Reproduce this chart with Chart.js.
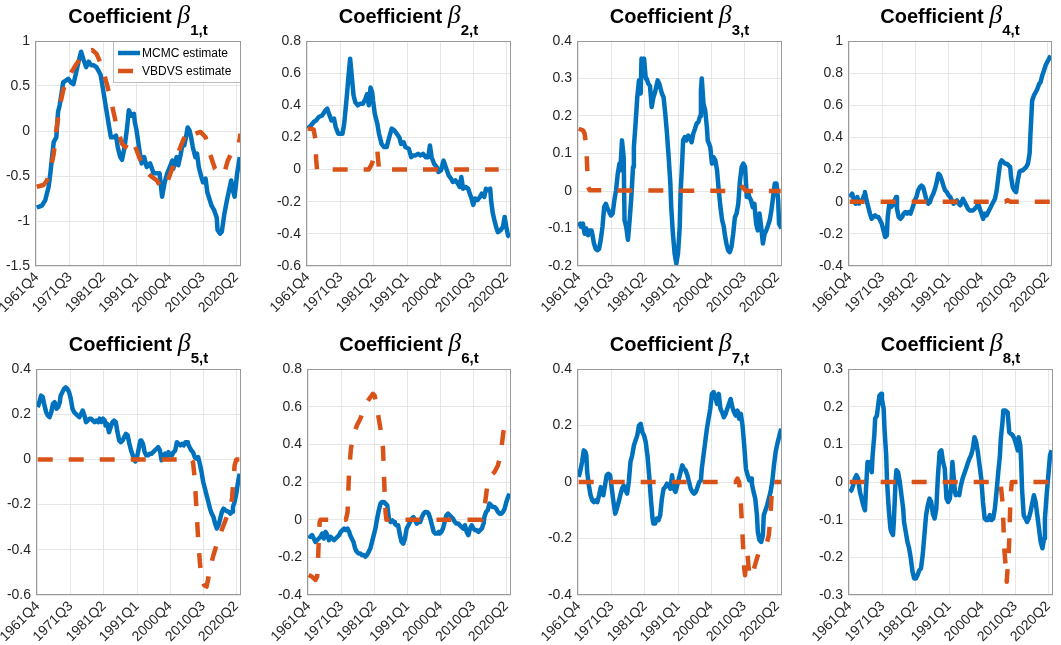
<!DOCTYPE html>
<html><head><meta charset="utf-8">
<script src="https://cdn.jsdelivr.net/npm/chart.js@4.4.1/dist/chart.umd.min.js"></script>
<style>
html,body{margin:0;padding:0;background:#fff;width:1061px;height:645px;overflow:hidden;position:relative;font-family:"Liberation Sans",Arial,sans-serif;}
canvas{position:absolute;}
.ttl{position:absolute;text-align:center;font-weight:bold;font-size:20px;color:#000;white-space:nowrap;line-height:24px;z-index:3;}
.ttl .b{font-family:"Liberation Serif","DejaVu Serif",serif;font-style:italic;font-weight:normal;font-size:26px;}
.ttl .s{font-size:15px;font-weight:bold;position:relative;top:12px;}
</style></head><body>
<script>
// ---- x axis (quarter index, 0 = 1961Q4) ----
const quarterTicks = [0, 39, 78, 117, 156, 195, 234];
const tickLabels = ['1961Q4','1971Q3','1981Q2','1991Q1','2000Q4','2010Q3','2020Q2'];
const seriesNames = ['MCMC estimate', 'VBDVS estimate'];

// ---- y axis limits per coefficient ----
const yMin  = [-1.5, -0.6, -0.2, -0.4, -0.6, -0.4, -0.4, -0.3];
const yMax  = [1, 0.8, 0.4, 1, 0.4, 0.8, 0.4, 0.3];
const yStep = [0.5, 0.2, 0.1, 0.2, 0.2, 0.2, 0.2, 0.1];

// ---- data: [quarter index, value] ----
const mcmc1 = [[0,-0.85],[3,-0.84],[6,-0.83],[10,-0.77],[14,-0.62],[16,-0.47],[18,-0.29],[20,-0.12],[23,-0.07],[25,0.21],[27,0.29],[29,0.41],[31,0.54],[34,0.56],[37,0.58],[40,0.54],[43,0.52],[46,0.64],[49,0.77],[52,0.88],[55,0.79],[58,0.71],[61,0.77],[64,0.73],[67,0.73],[70,0.71],[73,0.66],[75,0.62],[78,0.45],[81,0.27],[85,0.04],[87,-0.07],[90,-0.07],[93,-0.05],[95,-0.18],[98,-0.29],[100,-0.32],[103,-0.18],[106,0.04],[108,0.23],[111,0.17],[114,0.19],[115,0.10],[117,0.01],[121,-0.25],[123,-0.36],[126,-0.29],[129,-0.40],[133,-0.36],[137,-0.47],[141,-0.47],[144,-0.47],[147,-0.73],[150,-0.57],[153,-0.47],[156,-0.40],[159,-0.33],[160,-0.42],[164,-0.29],[166,-0.38],[169,-0.25],[171,-0.14],[173,-0.16],[175,-0.07],[177,0.04],[179,0.01],[181,-0.07],[183,-0.18],[186,-0.29],[188,-0.25],[190,-0.40],[193,-0.51],[195,-0.57],[198,-0.53],[200,-0.68],[203,-0.77],[205,-0.83],[208,-0.88],[211,-0.96],[212,-1.10],[215,-1.14],[217,-1.12],[220,-0.92],[223,-0.77],[226,-0.64],[228,-0.55],[230,-0.66],[232,-0.73],[235,-0.47],[238,-0.29]];
const vbdvs1 = [[0,-0.62],[8,-0.60],[12,-0.55],[16,-0.44],[20,-0.25],[23,0.01],[27,0.27],[31,0.45],[35,0.56],[41,0.66],[47,0.75],[53,0.83],[59,0.88],[65,0.90],[70,0.86],[76,0.73],[82,0.53],[88,0.30],[94,0.04],[100,-0.14],[104,-0.18],[108,-0.10],[112,-0.10],[117,-0.21],[123,-0.36],[129,-0.46],[135,-0.51],[141,-0.55],[145,-0.62],[149,-0.64],[153,-0.57],[158,-0.44],[164,-0.29],[170,-0.14],[176,-0.01],[182,0.01],[186,-0.03],[192,-0.01],[198,-0.07],[203,-0.25],[209,-0.42],[215,-0.49],[220,-0.46],[224,-0.33],[229,-0.23],[234,-0.20],[237,-0.14],[239,-0.03]];

const mcmc2 = [[0,0.255],[4,0.275],[7,0.296],[10,0.306],[13,0.327],[17,0.337],[21,0.369],[23,0.379],[25,0.348],[28,0.306],[31,0.317],[33,0.265],[36,0.223],[38,0.223],[41,0.223],[43,0.286],[46,0.452],[48,0.576],[50,0.69],[52,0.576],[54,0.462],[56,0.42],[59,0.40],[62,0.41],[65,0.41],[68,0.44],[70,0.47],[72,0.40],[74,0.51],[76,0.48],[77,0.43],[79,0.348],[82,0.286],[84,0.223],[87,0.16],[90,0.14],[93,0.14],[96,0.20],[99,0.255],[102,0.244],[105,0.223],[108,0.20],[110,0.16],[113,0.17],[115,0.14],[119,0.13],[122,0.077],[124,0.088],[127,0.088],[130,0.098],[133,0.088],[136,0.098],[139,0.077],[142,0.077],[144,0.15],[146,0.077],[149,0.035],[152,0.015],[154,-0.015],[157,-0.005],[160,0.056],[162,0.025],[164,-0.005],[166,-0.036],[169,-0.057],[171,-0.077],[174,-0.067],[177,-0.088],[179,-0.108],[181,-0.046],[183,-0.119],[186,-0.108],[189,-0.119],[191,-0.15],[193,-0.18],[195,-0.22],[197,-0.18],[200,-0.19],[203,-0.17],[205,-0.15],[208,-0.17],[210,-0.119],[212,-0.129],[215,-0.119],[216,-0.19],[218,-0.27],[220,-0.316],[222,-0.357],[224,-0.389],[227,-0.378],[230,-0.357],[232,-0.295],[234,-0.357],[236,-0.41],[238,-0.42]];
const vbdvs2 = [[0,0.255],[7,0.25],[9,0.19],[10,0.06],[11,0],[72,0],[76,0.04],[80,0.13],[82,0.12],[84,0],[225,0]];

const mcmc3 = [[0,-0.083],[3,-0.096],[5,-0.087],[7,-0.114],[9,-0.10],[11,-0.118],[13,-0.105],[15,-0.105],[16,-0.114],[18,-0.14],[20,-0.154],[22,-0.158],[24,-0.154],[26,-0.13],[28,-0.096],[30,-0.043],[32,-0.034],[34,-0.047],[36,-0.056],[38,-0.065],[40,-0.06],[42,-0.025],[44,0.002],[46,0.046],[48,0.073],[49,0.055],[51,0.135],[53,0.09],[54,-0.078],[56,-0.096],[58,-0.13],[60,-0.078],[62,-0.016],[64,0.064],[65,0.117],[67,0.18],[69,0.25],[71,0.295],[73,0.26],[74,0.353],[76,0.33],[77,0.353],[79,0.30],[80,0.30],[82,0.286],[84,0.28],[86,0.224],[88,0.25],[90,0.264],[93,0.295],[95,0.286],[98,0.26],[100,0.25],[102,0.206],[104,0.153],[106,0.09],[108,0.02],[109,-0.043],[111,-0.114],[113,-0.167],[115,-0.194],[117,-0.167],[119,-0.096],[120,-0.007],[122,0.082],[123,0.135],[125,0.144],[127,0.135],[129,0.148],[131,0.144],[133,0.13],[135,0.153],[137,0.166],[139,0.18],[141,0.184],[143,0.20],[144,0.268],[145,0.30],[147,0.233],[149,0.215],[151,0.17],[152,0.135],[155,0.117],[157,0.073],[159,0.09],[161,0.082],[163,0.055],[165,0.002],[167,-0.043],[169,-0.078],[171,-0.096],[172,-0.114],[174,-0.14],[176,-0.158],[178,-0.163],[180,-0.149],[182,-0.114],[184,-0.07],[186,-0.06],[188,-0.034],[190,0.028],[192,0.064],[194,0.073],[196,0.064],[198,-0.016],[200,-0.007],[201,-0.016],[203,-0.025],[205,-0.043],[207,-0.034],[209,-0.087],[211,-0.105],[213,-0.06],[215,-0.096],[217,-0.14],[219,-0.114],[221,-0.105],[223,-0.092],[225,-0.078],[227,-0.052],[229,-0.016],[231,0.02],[233,0.02],[235,-0.025],[236,-0.087],[239,-0.10]];
const vbdvs3 = [[0,0.166],[5,0.162],[7,0.153],[9,0.117],[10,0.064],[11,0.011],[13,0.002],[187,0],[193,0.011],[197,0],[238,0]];

const mcmc4 = [[0,0.029],[3,0.05],[5,0.008],[7,-0.012],[9,0.029],[11,-0.012],[13,0.008],[15,0.008],[17,0.04],[18,0.06],[20,0.008],[22,-0.033],[24,-0.074],[26,-0.106],[28,-0.095],[30,-0.085],[32,-0.095],[34,-0.095],[36,-0.116],[38,-0.137],[40,-0.178],[42,-0.22],[44,-0.21],[45,-0.095],[47,-0.012],[49,-0.033],[51,-0.022],[53,0.008],[55,0.029],[56,-0.044],[58,-0.095],[60,-0.106],[62,-0.095],[64,-0.074],[66,-0.064],[68,-0.074],[70,-0.064],[72,-0.074],[74,-0.044],[76,-0.012],[77,0.008],[79,0.029],[81,0.07],[83,0.09],[85,0.1],[87,0.09],[89,0.05],[91,0.008],[93,-0.012],[95,-0.002],[97,0.029],[99,0.05],[101,0.08],[103,0.12],[105,0.174],[107,0.164],[109,0.133],[111,0.10],[113,0.07],[115,0.06],[117,0.04],[119,0.029],[121,0.008],[123,-0.012],[125,-0.002],[127,0.008],[129,-0.012],[131,-0.022],[133,0.008],[134,0.019],[136,-0.002],[138,-0.022],[140,-0.044],[142,-0.054],[144,-0.054],[146,-0.054],[148,-0.044],[150,-0.033],[152,-0.012],[154,-0.044],[156,-0.074],[158,-0.106],[160,-0.074],[162,-0.085],[164,-0.064],[166,-0.044],[168,-0.022],[170,-0.002],[172,0.019],[174,0.07],[176,0.154],[178,0.237],[180,0.257],[182,0.247],[184,0.237],[186,0.237],[188,0.226],[190,0.216],[191,0.154],[193,0.09],[195,0.07],[197,0.06],[199,0.133],[201,0.185],[203,0.195],[205,0.195],[207,0.206],[209,0.216],[211,0.237],[213,0.30],[214,0.42],[216,0.63],[218,0.66],[220,0.68],[222,0.70],[224,0.73],[226,0.745],[228,0.786],[230,0.817],[232,0.85],[235,0.88],[238,0.91]];
const vbdvs4 = [[0,0],[184,0],[187,0.01],[190,0],[238,0]];

const mcmc5 = [[0,0.231],[2,0.253],[4,0.282],[6,0.275],[8,0.238],[10,0.209],[12,0.194],[14,0.187],[16,0.209],[18,0.246],[20,0.253],[22,0.224],[24,0.231],[26,0.253],[27,0.282],[29,0.297],[31,0.312],[33,0.319],[35,0.312],[37,0.297],[39,0.268],[41,0.224],[43,0.209],[45,0.201],[47,0.194],[49,0.187],[51,0.201],[53,0.216],[55,0.194],[57,0.165],[59,0.172],[61,0.18],[63,0.18],[65,0.172],[67,0.165],[69,0.172],[71,0.165],[73,0.18],[75,0.165],[77,0.18],[79,0.172],[80,0.15],[82,0.157],[84,0.12],[86,0.143],[88,0.165],[90,0.172],[92,0.165],[94,0.12],[96,0.084],[98,0.076],[100,0.084],[102,0.099],[104,0.113],[106,0.106],[108,0.069],[110,0.04],[112,0.018],[114,-0.004],[115,-0.009],[117,0.01],[119,0.047],[121,0.084],[122,0.084],[124,0.069],[126,0.032],[128,0.018],[130,0.018],[132,0.025],[134,0.025],[136,0.032],[138,0.04],[140,0.047],[142,0.054],[144,0.04],[146,-0.004],[148,0.018],[150,0.025],[152,0.01],[154,0.032],[156,0.018],[158,0.018],[160,0.032],[162,0.04],[164,0.076],[166,0.069],[168,0.062],[170,0.069],[172,0.062],[174,0.076],[176,0.076],[177,0.069],[179,0.054],[181,0.04],[183,0.032],[185,0.01],[187,0.003],[189,0.01],[191,-0.019],[193,-0.056],[195,-0.1],[197,-0.129],[199,-0.159],[201,-0.188],[203,-0.218],[205,-0.24],[207,-0.254],[209,-0.284],[211,-0.306],[213,-0.291],[215,-0.262],[217,-0.232],[219,-0.218],[221,-0.225],[223,-0.229],[225,-0.232],[227,-0.24],[229,-0.232],[230,-0.21],[232,-0.188],[234,-0.151],[236,-0.1],[238,-0.063]];
const vbdvs5 = [[0,0],[181,0],[183,-0.012],[185,-0.085],[187,-0.218],[189,-0.35],[191,-0.453],[193,-0.526],[196,-0.556],[199,-0.563],[201,-0.526],[203,-0.482],[207,-0.424],[213,-0.35],[219,-0.291],[225,-0.232],[229,-0.174],[230,-0.115],[232,-0.026],[234,0],[238,0]];

const mcmc6 = [[0,-0.082],[2,-0.091],[4,-0.082],[6,-0.1],[8,-0.118],[10,-0.109],[12,-0.1],[14,-0.091],[16,-0.074],[18,-0.1],[20,-0.065],[22,-0.082],[24,-0.109],[26,-0.091],[28,-0.1],[30,-0.109],[32,-0.1],[34,-0.091],[36,-0.082],[38,-0.065],[40,-0.056],[42,-0.047],[44,-0.056],[46,-0.047],[48,-0.065],[49,-0.082],[51,-0.1],[53,-0.118],[55,-0.153],[57,-0.171],[59,-0.179],[61,-0.179],[63,-0.188],[65,-0.188],[67,-0.197],[69,-0.188],[71,-0.171],[73,-0.153],[75,-0.118],[77,-0.082],[79,-0.047],[81,0.005],[83,0.05],[85,0.085],[87,0.094],[89,0.094],[91,0.085],[93,0.076],[95,0.005],[97,-0.012],[99,-0.004],[101,-0.012],[102,-0.021],[104,-0.03],[106,-0.03],[108,-0.082],[110,-0.118],[112,-0.127],[114,-0.1],[116,-0.047],[118,-0.03],[120,-0.012],[122,0.005],[124,0.014],[126,-0.004],[128,-0.021],[130,-0.012],[132,-0.012],[134,0.014],[136,0.032],[138,0.041],[140,0.041],[142,0.032],[144,0.005],[146,-0.03],[148,-0.065],[150,-0.074],[152,-0.074],[154,-0.065],[155,-0.074],[157,-0.065],[159,-0.047],[161,-0.012],[163,0.023],[165,0.032],[167,0.023],[169,0.014],[171,0.005],[173,-0.012],[175,-0.021],[177,-0.021],[179,-0.03],[181,-0.039],[183,-0.047],[185,-0.03],[187,-0.065],[189,-0.082],[191,-0.047],[193,-0.03],[195,-0.047],[197,-0.056],[199,-0.056],[201,-0.065],[203,-0.056],[205,-0.047],[207,-0.021],[208,0.014],[210,0.041],[212,0.05],[214,0.085],[216,0.076],[218,0.067],[220,0.067],[222,0.059],[224,0.041],[226,0.032],[228,0.032],[230,0.041],[232,0.059],[234,0.094],[236,0.121],[238,0.138]];
const vbdvs6 = [[0,-0.294],[4,-0.303],[6,-0.312],[8,-0.32],[10,-0.303],[11,-0.224],[12,-0.1],[13,-0.012],[14,0],[44,0],[46,0.04],[47,0.164],[48,0.27],[50,0.376],[53,0.447],[57,0.5],[61,0.535],[65,0.58],[69,0.624],[73,0.65],[76,0.668],[78,0.66],[81,0.588],[85,0.482],[88,0.376],[89,0.253],[90,0.129],[91,0.041],[92,0],[205,0],[208,0.059],[212,0.2],[216,0.235],[220,0.253],[224,0.288],[227,0.341],[230,0.447],[232,0.518],[235,0.544],[238,0.544]];

const mcmc7 = [[0,0.018],[2,0.041],[4,0.071],[6,0.112],[8,0.106],[9,0.094],[10,0.035],[12,-0.012],[14,-0.047],[16,-0.065],[18,-0.071],[20,-0.065],[22,-0.071],[24,-0.047],[26,-0.018],[28,-0.035],[29,-0.047],[31,-0.012],[33,0.024],[35,0.029],[37,0.024],[39,-0.024],[41,-0.071],[43,-0.112],[45,-0.094],[47,-0.071],[49,-0.047],[51,-0.024],[53,-0.012],[55,-0.029],[57,-0.041],[59,0],[61,0.071],[63,0.094],[65,0.129],[67,0.147],[69,0.165],[71,0.2],[73,0.206],[75,0.176],[77,0.165],[79,0.141],[81,0.094],[83,0.024],[85,-0.059],[87,-0.129],[88,-0.147],[90,-0.147],[92,-0.129],[94,-0.135],[96,-0.118],[98,-0.059],[100,-0.024],[102,-0.018],[104,-0.006],[106,-0.012],[108,-0.024],[110,0.024],[112,-0.024],[114,-0.035],[116,-0.012],[118,0.012],[120,0.035],[122,0.059],[124,0.047],[126,0.041],[128,0.024],[130,0],[132,-0.024],[134,-0.035],[136,-0.041],[138,-0.035],[140,-0.018],[142,0],[144,0.006],[145,0.047],[147,0.094],[149,0.141],[151,0.188],[153,0.224],[155,0.259],[157,0.312],[159,0.318],[161,0.3],[163,0.276],[165,0.312],[167,0.259],[169,0.247],[171,0.229],[173,0.241],[175,0.259],[177,0.276],[179,0.294],[181,0.265],[183,0.247],[185,0.235],[187,0.253],[189,0.224],[191,0.241],[193,0.2],[195,0.129],[197,0.047],[199,0.024],[201,0.006],[203,0.012],[204,-0.006],[206,-0.035],[208,-0.059],[210,-0.118],[211,-0.176],[213,-0.206],[215,-0.212],[217,-0.188],[218,-0.118],[220,-0.1],[222,-0.082],[224,-0.059],[226,-0.035],[228,0],[230,0.059],[232,0.106],[234,0.135],[236,0.159],[238,0.182],[239,0.188]];
const vbdvs7 = [[0,0],[185,0],[187,0.012],[189,0],[191,-0.071],[193,-0.188],[195,-0.306],[196,-0.33],[197,-0.282],[199,-0.259],[201,-0.33],[203,-0.306],[206,-0.312],[210,-0.27],[214,-0.235],[218,-0.224],[222,-0.212],[224,-0.188],[226,-0.118],[227,-0.059],[228,0],[239,0]];

const mcmc8 = [[0,-0.026],[2,-0.022],[4,-0.009],[6,0.009],[8,0.018],[10,0.009],[12,-0.026],[14,-0.044],[16,-0.062],[18,-0.075],[19,-0.026],[21,0.053],[22,0.035],[24,0.053],[26,0.026],[27,0.071],[29,0.124],[30,0.168],[32,0.176],[33,0.194],[35,0.229],[37,0.234],[38,0.22],[40,0.194],[41,0.141],[43,0.071],[44,0],[46,-0.071],[48,-0.124],[49,-0.132],[51,-0.141],[52,-0.106],[54,0],[55,0.031],[57,0.026],[59,0],[61,-0.035],[63,-0.071],[64,-0.106],[66,-0.132],[68,-0.159],[70,-0.176],[72,-0.203],[74,-0.238],[76,-0.256],[78,-0.256],[80,-0.247],[82,-0.234],[84,-0.229],[86,-0.194],[88,-0.141],[90,-0.088],[92,-0.062],[94,-0.044],[96,-0.053],[98,-0.084],[100,-0.097],[102,-0.071],[104,0.018],[106,0.079],[108,0.084],[110,0.053],[112,0.035],[114,-0.044],[116,-0.053],[118,-0.044],[120,0],[121,0.053],[122,0.026],[124,-0.026],[125,-0.035],[127,-0.031],[129,-0.035],[131,-0.009],[133,0.009],[135,0.022],[137,0.035],[139,0.049],[141,0.062],[143,0.071],[145,0.088],[147,0.119],[149,0.106],[151,0.079],[153,0.044],[155,0.009],[157,-0.053],[159,-0.097],[161,-0.101],[163,-0.101],[165,-0.088],[167,-0.101],[169,-0.097],[171,-0.071],[173,-0.026],[175,0.026],[177,0.071],[178,0.115],[180,0.159],[181,0.19],[183,0.19],[186,0.185],[187,0.159],[188,0.132],[190,0.128],[192,0.124],[194,0.115],[196,0.101],[198,0.084],[199,0.119],[201,0.097],[202,0.053],[203,-0.018],[205,-0.088],[207,-0.097],[209,-0.106],[211,-0.097],[213,-0.079],[215,-0.057],[217,-0.035],[219,-0.053],[221,-0.088],[223,-0.124],[225,-0.159],[227,-0.176],[229,-0.15],[230,-0.097],[232,-0.035],[234,0.018],[236,0.071],[238,0.084]];
const vbdvs8 = [[0,0],[177,0],[178,-0.009],[180,-0.053],[181,-0.106],[182,-0.176],[184,-0.229],[185,-0.265],[186,-0.23],[187,-0.21],[188,-0.15],[189,-0.071],[190,-0.026],[191,0],[238,0]];

const mcmcSeries  = [mcmc1, mcmc2, mcmc3, mcmc4, mcmc5, mcmc6, mcmc7, mcmc8];
const vbdvsSeries = [vbdvs1, vbdvs2, vbdvs3, vbdvs4, vbdvs5, vbdvs6, vbdvs7, vbdvs8];

// ---- layout (plot areas in page pixels) ----
const plotBoxes = [
  {l:35, t:41, r:241, b:266}, {l:306, t:41, r:511, b:266}, {l:577, t:41, r:782, b:266}, {l:848, t:41, r:1052, b:266},
  {l:36, t:369, r:241, b:595}, {l:307, t:369, r:511, b:595}, {l:577, t:369, r:782, b:595}, {l:848, t:369, r:1053, b:595}
];
const YW = 45, PT = 12, PR = 10, XH = 62;
const X_MIN = -2, X_MAX = 239.5;
const FONT = '"Liberation Sans", Arial, sans-serif';
const BLUE = '#0072BD', RED = '#D95319';

const boxPlugin = {
  id: 'axesBox',
  afterDraw(chart) {
    const a = chart.chartArea, ctx = chart.ctx;
    ctx.save();
    ctx.strokeStyle = '#9a9a9a'; ctx.lineWidth = 1;
    ctx.strokeRect(Math.round(a.left) + 0.5, Math.round(a.top) + 0.5, Math.round(a.right - a.left) - 1, Math.round(a.bottom - a.top) - 1);
    ctx.restore();
  }
};
const legendPlugin = {
  id: 'boxLegend',
  afterDatasetsDraw(chart, args, opts) {
    if (!opts || !opts.show) return;
    const ctx = chart.ctx, a = chart.chartArea;
    const w = 128, h = 42, x0 = Math.round(a.right) - w, y0 = Math.round(a.top);
    ctx.save();
    ctx.fillStyle = '#fff'; ctx.fillRect(x0, y0, w, h);
    ctx.strokeStyle = '#bdbdbd'; ctx.lineWidth = 1; ctx.strokeRect(x0 + 0.5, y0 + 0.5, w - 1, h - 1);
    const items = chart.data.datasets.slice().sort((p, q) => p.legendIndex - q.legendIndex);
    items.forEach((ds, k) => {
      const yy = y0 + 12 + k * 18;
      ctx.strokeStyle = ds.borderColor; ctx.lineWidth = ds.borderWidth;
      ctx.setLineDash(ds.borderDash || []); ctx.lineCap = 'butt';
      ctx.beginPath(); ctx.moveTo(x0 + 5, yy); ctx.lineTo(x0 + 27, yy); ctx.stroke();
      ctx.setLineDash([]);
      ctx.fillStyle = '#000'; ctx.font = '12px ' + FONT; ctx.textBaseline = 'middle'; ctx.textAlign = 'left';
      ctx.fillText(ds.label, x0 + 29, yy + 0.5);
    });
    ctx.restore();
  }
};

const toXY = arr => arr.map(p => ({x: p[0], y: p[1]}));
const fmt = v => String(+Number(v).toFixed(2));

plotBoxes.forEach((pb, i) => {
  const cv = document.createElement('canvas');
  const W = (pb.r - pb.l) + YW + PR, H = (pb.b - pb.t) + PT + XH;
  cv.width = W; cv.height = H;
  cv.style.left = (pb.l - YW) + 'px'; cv.style.top = (pb.t - PT) + 'px';
  cv.style.width = W + 'px'; cv.style.height = H + 'px';
  document.body.appendChild(cv);

  const t = document.createElement('div');
  t.className = 'ttl';
  t.style.left = pb.l + 'px'; t.style.width = (pb.r - pb.l) + 'px';
  t.style.top = (pb.t - 38) + 'px';
  t.innerHTML = 'Coefficient <span class="b">β</span><span class="s">' + (i + 1) + ',t</span>';
  document.body.appendChild(t);

  new Chart(cv.getContext('2d'), {
    type: 'line',
    data: {
      datasets: [
        { label: seriesNames[1], legendIndex: 1, order: 0, data: toXY(vbdvsSeries[i]), borderColor: RED, borderWidth: 4.5,
          borderDash: [15, 16], borderCapStyle: 'butt', borderJoinStyle: 'round', pointRadius: 0, tension: 0, fill: false },
        { label: seriesNames[0], legendIndex: 0, order: 1, data: toXY(mcmcSeries[i]), borderColor: BLUE, borderWidth: 4.5,
          borderCapStyle: 'butt', borderJoinStyle: 'round', pointRadius: 0, tension: 0, fill: false }
      ]
    },
    options: {
      responsive: false, animation: false, maintainAspectRatio: false,
      layout: { padding: { top: PT, right: PR, left: 0, bottom: 0 } },
      plugins: { legend: { display: false }, tooltip: { enabled: false }, boxLegend: { show: i === 0 } },
      scales: {
        x: {
          type: 'linear', min: X_MIN, max: X_MAX,
          afterBuildTicks: s => { s.ticks = quarterTicks.map(v => ({ value: v })); },
          afterFit: s => { s.height = XH; s.paddingLeft = 0; s.paddingRight = 0; },
          ticks: { autoSkip: false, minRotation: 45, maxRotation: 45, padding: 3, color: '#262626',
                   font: { size: 14, family: FONT }, callback: v => tickLabels[quarterTicks.indexOf(v)] },
          grid: { color: '#e6e6e6', drawTicks: false }, border: { display: false }
        },
        y: {
          min: yMin[i], max: yMax[i],
          afterFit: s => { s.width = YW; s.paddingTop = 0; s.paddingBottom = 0; },
          ticks: { stepSize: yStep[i], padding: 5, color: '#262626', font: { size: 14, family: FONT }, callback: v => fmt(v) },
          grid: { color: '#e6e6e6', drawTicks: false }, border: { display: false }
        }
      }
    },
    plugins: [legendPlugin, boxPlugin]
  });
});
</script>
</body></html>
